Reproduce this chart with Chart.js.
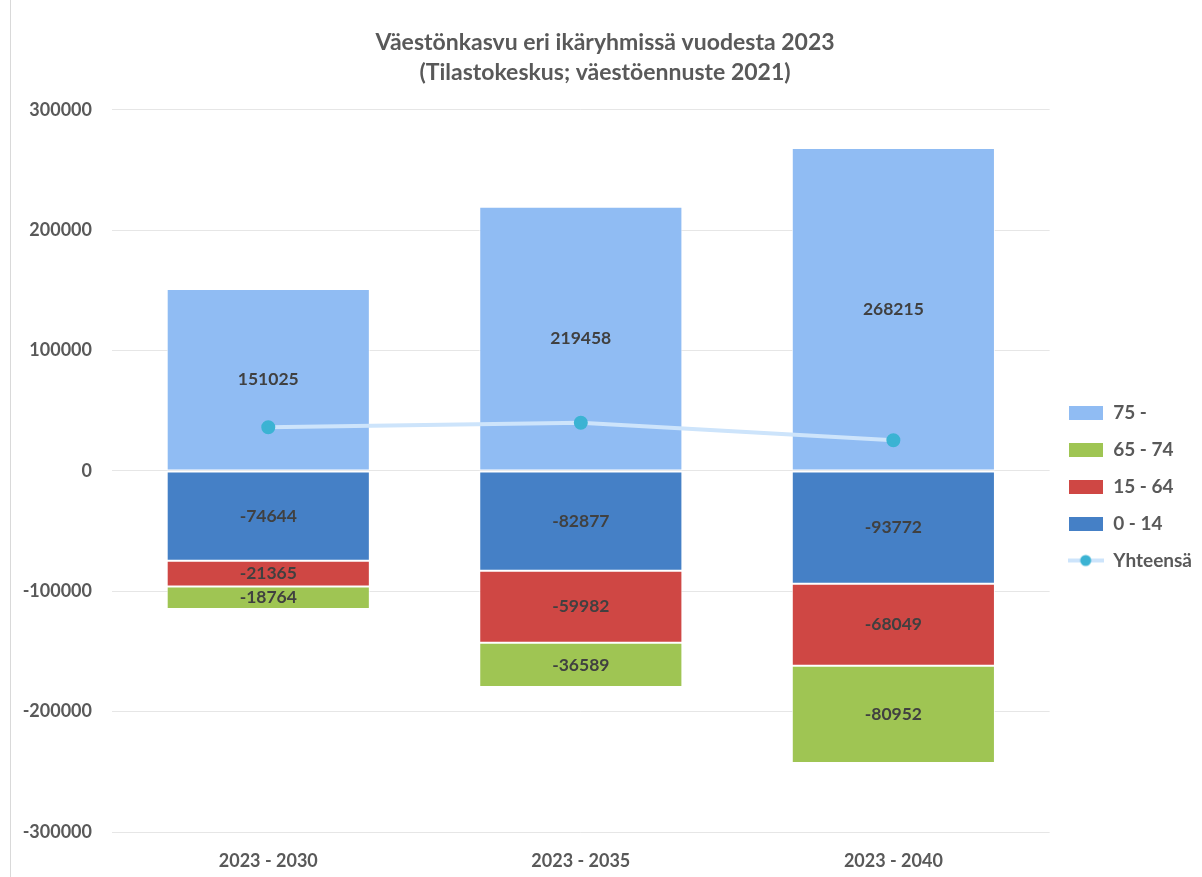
<!DOCTYPE html>
<html lang="fi">
<head>
    <meta charset="UTF-8">
    <title>Väestönkasvu eri ikäryhmissä vuodesta 2023</title>
    <style>
        * { margin: 0; padding: 0; box-sizing: border-box; }
        body { background: #fff; width: 1202px; height: 877px; overflow: hidden; position: relative; }
        .frame { position: absolute; left: 10px; top: 0; width: 1px; height: 877px; background: #d9d9d9; }
        .wrap { position: absolute; left: 0; top: 0; width: 1202px; height: 877px; }
    </style>
</head>
<body>
    <div class="frame"></div>
    <div class="wrap"><canvas id="chart" width="1202" height="877"></canvas></div>

    <script src="https://cdn.jsdelivr.net/npm/chart.js"></script>
    <script>
        // Aineisto
        const jaksot = ['2023 - 2030', '2023 - 2035', '2023 - 2040'];
        const ika0_14 = [-74644, -82877, -93772];
        const ika15_64 = [-21365, -59982, -68049];
        const ika65_74 = [-18764, -36589, -80952];
        const ika75 = [151025, 219458, 268215];
        const yhteensa = [36252, 40010, 25442];
        const yTicks = [-300000, -200000, -100000, 0, 100000, 200000, 300000];

        const fontti = 'Lato, "Open Sans", sans-serif';
        const harmaa = '#595959';

        // legendan järjestys (datasetIndex -> paikka)
        const legendOrder = [3, 2, 1, 0, 4];

        function boxIcon(color) {
            const c = document.createElement('canvas');
            c.width = 34; c.height = 14;
            const g = c.getContext('2d');
            g.fillStyle = color;
            g.fillRect(0, 0, 34, 14);
            return c;
        }
        function lineIcon() {
            const c = document.createElement('canvas');
            c.width = 36; c.height = 14;
            const g = c.getContext('2d');
            g.strokeStyle = '#cde4fb';
            g.lineWidth = 4;
            g.beginPath(); g.moveTo(0, 7); g.lineTo(36, 7); g.stroke();
            g.fillStyle = '#3bb3d3';
            g.beginPath(); g.arc(18, 7, 5.5, 0, Math.PI * 2); g.fill();
            return c;
        }

        // arvot pylväiden keskelle
        const arvoPlugin = {
            id: 'arvot',
            afterDatasetsDraw(chart) {
                const ctx = chart.ctx;
                ctx.save();
                ctx.font = 'bold 17.5px ' + fontti;
                ctx.fillStyle = '#404040';
                ctx.textAlign = 'center';
                ctx.textBaseline = 'middle';
                chart.data.datasets.forEach((ds, i) => {
                    if (ds.type === 'line') return;
                    const meta = chart.getDatasetMeta(i);
                    meta.data.forEach((bar, j) => {
                        const y = (bar.y + bar.base) / 2;
                        ctx.fillText(String(ds.data[j]), bar.x, y);
                    });
                });
                ctx.restore();
            }
        };

        const ctx = document.getElementById('chart').getContext('2d');
        new Chart(ctx, {
            data: {
                labels: jaksot,
                datasets: [
                    { type: 'bar', label: '0 - 14', data: ika0_14, backgroundColor: '#4580c6', stack: 's', icon: boxIcon('#4580c6') },
                    { type: 'bar', label: '15 - 64', data: ika15_64, backgroundColor: '#cf4744', stack: 's', icon: boxIcon('#cf4744') },
                    { type: 'bar', label: '65 - 74', data: ika65_74, backgroundColor: '#9fc553', stack: 's', icon: boxIcon('#9fc553') },
                    { type: 'bar', label: '75 -', data: ika75, backgroundColor: '#90bcf3', stack: 's', icon: boxIcon('#90bcf3') },
                    {
                        type: 'line', label: 'Yhteensä', data: yhteensa,
                        borderColor: '#cde4fb', borderWidth: 4,
                        pointBackgroundColor: '#3bb3d3', pointBorderColor: '#3bb3d3',
                        pointRadius: 5, tension: 0, icon: lineIcon()
                    }
                ].map(ds => ds.type === 'bar'
                    ? Object.assign(ds, { borderColor: 'rgba(255,255,255,0.8)', borderWidth: 1, borderSkipped: false, categoryPercentage: 0.65, barPercentage: 1 })
                    : Object.assign(ds, { order: -1 }))
            },
            options: {
                responsive: false,
                animation: false,
                devicePixelRatio: 1,
                layout: { padding: { left: 8, right: 0, top: 18, bottom: 0 } },
                plugins: {
                    title: {
                        display: true,
                        text: ['Väestönkasvu eri ikäryhmissä vuodesta 2023', '(Tilastokeskus; väestöennuste 2021)'],
                        color: harmaa,
                        font: { family: fontti, size: 23, weight: 'bold', lineHeight: 1.3 },
                        padding: { top: 10, bottom: 22 }
                    },
                    legend: {
                        position: 'right',
                        title: { display: true, text: ' ', font: { size: 10, lineHeight: 1.2 }, padding: 33 },
                        labels: {
                            usePointStyle: true,
                            pointStyleWidth: 36,
                            padding: 18,
                            color: harmaa,
                            font: { family: fontti, size: 19, weight: 'bold' },
                            generateLabels(chart) {
                                return chart.data.datasets.map((ds, i) => ({
                                    text: ds.label,
                                    datasetIndex: i,
                                    pointStyle: ds.icon,
                                    fontColor: harmaa,
                                    lineWidth: 0,
                                    hidden: false
                                }));
                            },
                            sort: (a, b) => legendOrder.indexOf(a.datasetIndex) - legendOrder.indexOf(b.datasetIndex)
                        }
                    },
                    tooltip: { enabled: false }
                },
                scales: {
                    x: {
                        stacked: true,
                        afterFit: axis => { axis.height = 45; },
                        grid: { display: false, drawTicks: false },
                        border: { display: false },
                        ticks: { color: harmaa, font: { family: fontti, size: 18, weight: 'bold' }, padding: 18 }
                    },
                    y: {
                        stacked: true,
                        min: -300000,
                        max: 300000,
                        afterBuildTicks: axis => { axis.ticks = yTicks.map(v => ({ value: v })); },
                        afterFit: axis => { axis.width = 104; },
                        grid: { color: '#e6e6e6', drawTicks: false },
                        border: { display: false },
                        ticks: {
                            color: harmaa,
                            font: { family: fontti, size: 18, weight: 'bold' },
                            padding: 20,
                            callback: v => String(v)
                        }
                    }
                }
            },
            plugins: [arvoPlugin]
        });
    </script>
</body>
</html>
